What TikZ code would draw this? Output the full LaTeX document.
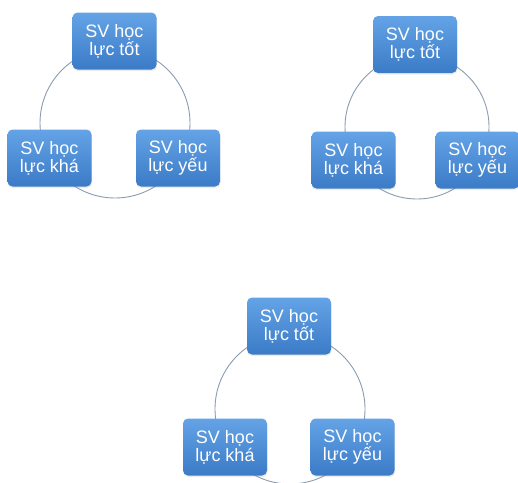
\documentclass[tikz,border=0pt]{standalone}
\usepackage{fontspec}
\setmainfont{Liberation Sans}
\usetikzlibrary{shadows}
\definecolor{boxtop}{HTML}{64A3E6}
\definecolor{boxbot}{HTML}{3B7BC7}
\definecolor{ringcol}{HTML}{8A9CB2}
\tikzset{
	svbox/.style={rectangle, rounded corners=5pt, top color=boxtop, bottom color=boxbot, draw=none,
		minimum width=84pt, minimum height=57pt, inner sep=0pt, align=center, text=white,
		font=\fontsize{18}{18}\selectfont,
		drop shadow={opacity=0.15, shadow xshift=0.5pt, shadow yshift=-1.5pt}},
	cycleline/.style={draw=ringcol, line width=0.9pt}
}
\begin{document}
\begin{tikzpicture}[x=1pt, y=-1pt, line join=round, line cap=round]
	\useasboundingbox (0,0) rectangle (518,482);
	%\draw[gray!30] (0,0) grid[step=50] (518,482);
	% first cycle
	\coordinate (c1) at (115,123);
	\draw[cycleline] (c1) circle[radius=75];
	\node[svbox] (tot1) at (114.5,41) {SV học\\lực tốt};
	\node[svbox] (kha1) at (49.5,158) {SV học\\lực khá};
	\node[svbox] (yeu1) at (178,158) {SV học\\lực yếu};
	% second cycle
	\coordinate (c2) at (417,127);
	\draw[cycleline] (c2) circle[radius=72];
	\node[svbox] (tot2) at (415,44.5) {SV học\\lực tốt};
	\node[svbox] (kha2) at (353.5,160) {SV học\\lực khá};
	\node[svbox] (yeu2) at (477.5,160) {SV học\\lực yếu};
	% third cycle
	\coordinate (c3) at (290,409);
	\draw[cycleline] (c3) circle[radius=75];
	\node[svbox] (tot3) at (289,326) {SV học\\lực tốt};
	\node[svbox] (kha3) at (225,447) {SV học\\lực khá};
	\node[svbox] (yeu3) at (352.5,447) {SV học\\lực yếu};
\end{tikzpicture}
\end{document}
